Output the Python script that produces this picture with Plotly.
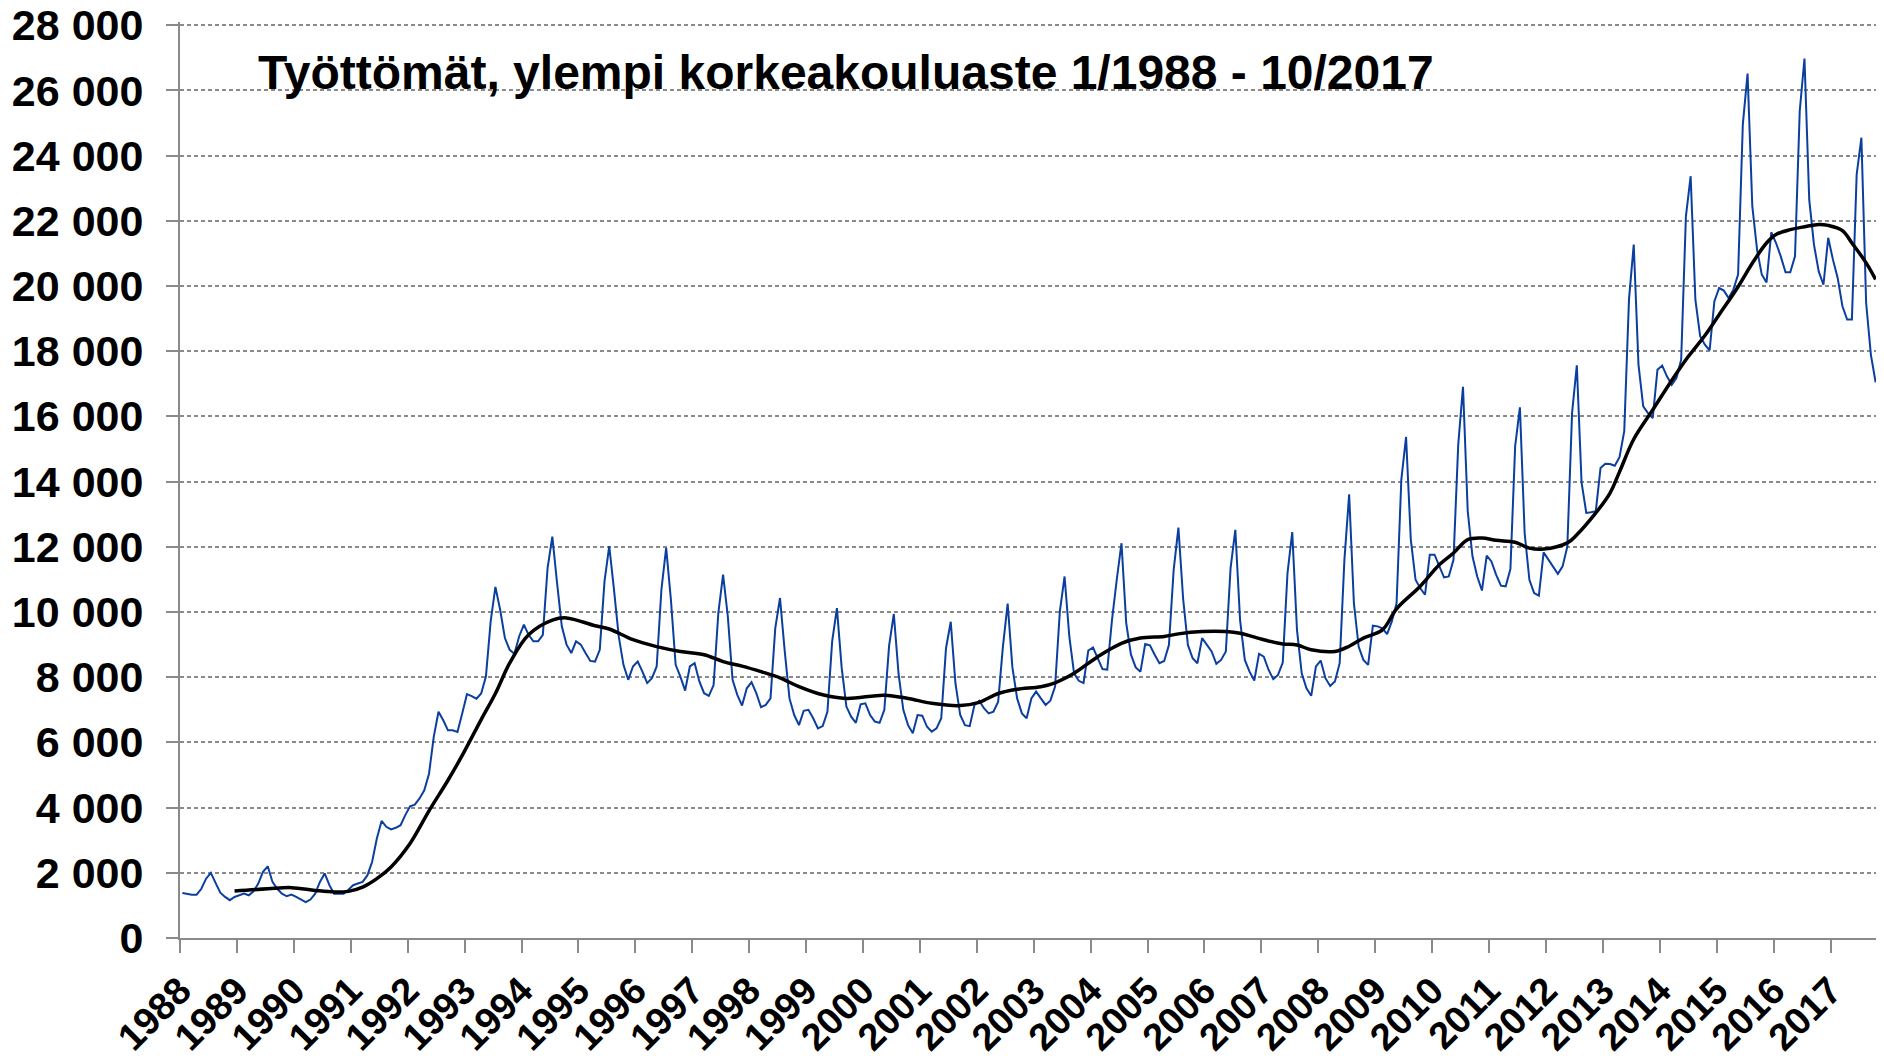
import plotly.graph_objects as go

# Monthly unemployed (higher university degree), 1/1988 - 10/2017
unemployed = [
    1380, 1350, 1330, 1330, 1510, 1820, 2000, 1690, 1390, 1260, 1160, 1260,   # 1988
    1310, 1360, 1310, 1430, 1670, 2030, 2200, 1720, 1510, 1360, 1280, 1330,   # 1989
    1260, 1180, 1100, 1180, 1360, 1720, 1980, 1620, 1360, 1360, 1360, 1480,   # 1990
    1620, 1670, 1720, 1920, 2330, 3050, 3590, 3410, 3330, 3380, 3460, 3770,   # 1991
    4040, 4090, 4280, 4530, 5040, 6170, 6940, 6680, 6370, 6370, 6320, 6890,   # 1992
    7480, 7420, 7340, 7500, 8020, 9710, 10770, 10070, 9200, 8840, 8720, 9250, # 1993
    9610, 9300, 9100, 9100, 9300, 11350, 12310, 10890, 9560, 9000, 8740, 9100,  # 1994
    9000, 8740, 8500, 8480, 8840, 10940, 12020, 10690, 9250, 8380, 7920, 8330,  # 1995
    8480, 8170, 7820, 7970, 8330, 10690, 11970, 10380, 8380, 8020, 7590, 8330,  # 1996
    8430, 7870, 7510, 7430, 7760, 9970, 11150, 9870, 7920, 7460, 7130, 7660,    # 1997
    7850, 7510, 7080, 7150, 7350, 9500, 10430, 8800, 7350, 6840, 6530, 6970,    # 1998
    7000, 6740, 6430, 6500, 6940, 9100, 10120, 8300, 7100, 6790, 6600, 7170,    # 1999
    7200, 6840, 6640, 6600, 7000, 8960, 9940, 8100, 7000, 6530, 6280, 6840,     # 2000
    6820, 6480, 6330, 6430, 6740, 8890, 9700, 7800, 6840, 6530, 6500, 7150,     # 2001
    7280, 7050, 6890, 6940, 7250, 8940, 10260, 8300, 7350, 6890, 6740, 7350,    # 2002
    7560, 7350, 7150, 7280, 7710, 10010, 11090, 9250, 8120, 7890, 7820, 8820,   # 2003
    8910, 8580, 8250, 8230, 9760, 10990, 12110, 9660, 8690, 8300, 8170, 9020,   # 2004
    8980, 8690, 8430, 8500, 8990, 11290, 12590, 10400, 8990, 8580, 8430, 9200,  # 2005
    8990, 8790, 8410, 8530, 8790, 11350, 12520, 9760, 8530, 8170, 7900, 8720,   # 2006
    8630, 8230, 7940, 8070, 8450, 11190, 12450, 9450, 8120, 7660, 7430, 8330,   # 2007
    8510, 7970, 7730, 7870, 8430, 11600, 13610, 10270, 8940, 8530, 8380, 9580,  # 2008
    9560, 9500, 9320, 9710, 10270, 14060, 15370, 12220, 10990, 10730, 10530, 11760,  # 2009
    11760, 11400, 11060, 11090, 11600, 15140, 16910, 13090, 11710, 11090, 10660, 11730,  # 2010
    11550, 11140, 10810, 10790, 11320, 15090, 16280, 12420, 10990, 10580, 10500, 11830,  # 2011
    11600, 11400, 11170, 11400, 12010, 16110, 17570, 13980, 13040, 13060, 13090, 14420,  # 2012
    14550, 14540, 14490, 14750, 15550, 19590, 21270, 17590, 16310, 16100, 15950, 17430,  # 2013
    17560, 17230, 16970, 17180, 17740, 22140, 23370, 19580, 18460, 18200, 18030, 19530,  # 2014
    19940, 19860, 19630, 19890, 20350, 24960, 26520, 22450, 21120, 20350, 20110, 21650,  # 2015
    21320, 20910, 20420, 20420, 20910, 25370, 26980, 22650, 21270, 20450, 20040, 21480,  # 2016
    20810, 20250, 19380, 18970, 18970, 23420, 24550, 19480, 17890, 17050,              # 2017
]

# 12-month moving average (month index from 1/1988 = 0)
ma_month = [11, 18, 23, 28, 32, 35, 38, 41, 44, 48, 52, 56, 59, 63, 66, 69, 73, 78, 81,
            87, 90, 95, 100, 105, 110, 114, 118, 122, 126, 130, 135, 140, 148, 153, 158,
            164, 168, 172, 176, 181, 184, 188, 193, 198, 202, 207, 210, 215, 220, 223,
            228, 232, 235, 238, 243, 246, 249, 253, 256, 261, 265, 268, 271, 274, 277,
            281, 284, 287, 292, 294, 298, 301, 303, 306, 310, 314, 317, 321, 324, 328,
            331, 334, 336, 339, 342, 345, 347, 350, 352, 355, 357]
ma_value = [1440, 1510, 1545, 1460, 1410, 1430, 1560, 1820, 2180, 2900, 3900, 4840, 5600,
            6700, 7500, 8430, 9300, 9750, 9820, 9580, 9480, 9150, 8940, 8790, 8690, 8480,
            8340, 8170, 7980, 7710, 7460, 7350, 7450, 7350, 7200, 7130, 7230, 7500, 7630,
            7710, 7830, 8120, 8630, 9040, 9200, 9250, 9330, 9400, 9400, 9350, 9150, 9020,
            8990, 8840, 8790, 8950, 9200, 9450, 10100, 10790, 11450, 11810, 12220, 12270,
            12200, 12140, 11960, 11930, 12120, 12370, 13040, 13650, 14300, 15300, 16200,
            17100, 17740, 18480, 19120, 19980, 20700, 21320, 21580, 21730, 21820, 21890,
            21860, 21700, 21320, 20710, 20200]

years = [str(y) for y in range(1988, 2018)]
title_text = "Työttömät, ylempi korkeakouluaste 1/1988 - 10/2017"
y_max = 28000

FONT = "Liberation Sans, Arial, Helvetica, sans-serif"
GREY = "#8a8a8a"

x_blue = [i + 0.5 for i in range(len(unemployed))]
x_ma = [m + 0.5 for m in ma_month]

fig = go.Figure()
fig.add_trace(go.Scatter(x=x_blue, y=unemployed, mode="lines",
                         line=dict(color="#0b3f9f", width=2),
                         hoverinfo="skip"))
fig.add_trace(go.Scatter(x=x_ma, y=ma_value, mode="lines",
                         line=dict(color="#000000", width=3.5, shape="spline", smoothing=1.0),
                         hoverinfo="skip"))

fig.update_layout(
    width=1876, height=1053,
    margin=dict(l=172, r=6, t=14, b=123),
    paper_bgcolor="white", plot_bgcolor="white",
    showlegend=False,
    separators=", ",
    font=dict(family=FONT, color="black"),
    xaxis=dict(
        range=[0, len(unemployed)],
        tickmode="array",
        tickvals=[12 * k for k in range(len(years))],
        ticktext=years,
        tickangle=-45,
        tickfont=dict(family=FONT, size=38, color="black", weight="bold"),
        ticks="outside", ticklen=13, tickwidth=2, tickcolor=GREY,
        showline=True, linecolor=GREY, linewidth=2,
        showgrid=False, zeroline=False,
        automargin=False,
        ticklabeloverflow="allow",
        fixedrange=True,
    ),
    yaxis=dict(
        range=[0, y_max + 100],
        tickmode="array",
        tickvals=list(range(0, y_max + 1, 2000)),
        tickformat=",d",
        tickfont=dict(family=FONT, size=43, color="black", weight="bold"),
        ticks="outside", ticklen=12, tickwidth=2, tickcolor=GREY,
        ticklabelstandoff=14,
        ticklabeloverflow="allow",
        showline=True, linecolor=GREY, linewidth=2,
        showgrid=True, gridcolor=GREY, gridwidth=1.5, griddash="4px,3px",
        zeroline=False,
        automargin=False,
        fixedrange=True,
    ),
    annotations=[dict(
        text=title_text, xref="paper", yref="paper",
        x=0.0448, y=0.9445, xanchor="left", yanchor="middle",
        showarrow=False,
        font=dict(family=FONT, size=48, color="black", weight="bold"),
    )],
)

fig.write_html("out.html")
